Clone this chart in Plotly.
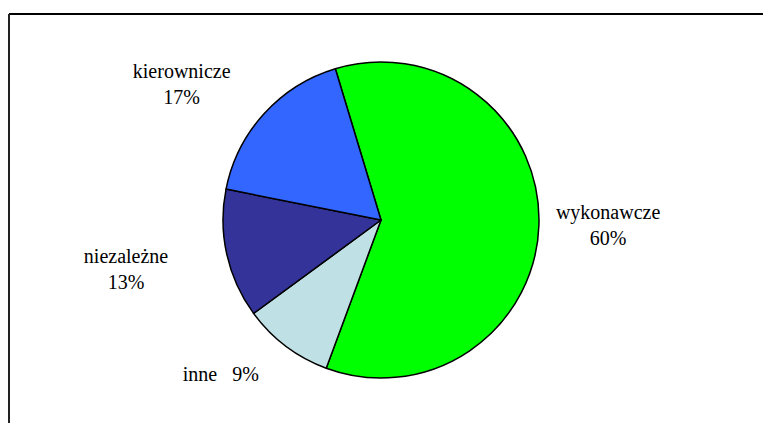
import plotly.graph_objects as go

categories = ["wykonawcze", "inne", "niezależne", "kierownicze"]
values = [60.3, 9.3, 13.2, 17.2]
colors = ["#00FF00", "#BFE0E4", "#333399", "#3366FF"]

W, H = 763, 423
cx, cy, r = 381, 220, 158
SERIF = "Liberation Serif, Times New Roman, DejaVu Serif, serif"
NB = "\u00a0"

templates = [
    NB + "%{label}<br>" + NB + "%{percent:.0%}",
    NB + "<br>%{label}" + NB * 3 + "%{percent:.0%}" + NB * 3,
    NB + "<br>%{label}" + NB * 8 + "<br>%{percent:.0%}" + NB * 8,
    "%{label}" + NB * 3 + "<br>%{percent:.0%}" + NB * 3 + "<br>" + NB,
]

fig = go.Figure(go.Pie(
    labels=categories,
    values=values,
    sort=False,
    direction="clockwise",
    rotation=-16.8,
    marker=dict(colors=colors, line=dict(color="black", width=1.5)),
    textposition="outside",
    texttemplate=templates,
    textfont=dict(family=SERIF, size=20, color="black"),
    outsidetextfont=dict(family=SERIF, size=20, color="black"),
    domain=dict(x=[(cx - r) / W, (cx + r) / W], y=[1 - (cy + r) / H, 1 - (cy - r) / H]),
    showlegend=False,
    hoverinfo="label+percent",
))

fig.update_layout(
    width=W, height=H,
    margin=dict(l=0, r=0, t=0, b=0),
    paper_bgcolor="white",
    plot_bgcolor="white",
    font=dict(family=SERIF, size=20, color="black"),
    shapes=[
        dict(type="line", xref="paper", yref="paper", x0=9 / W, x1=1, y0=1 - 14 / H, y1=1 - 14 / H,
             line=dict(color="black", width=2)),
        dict(type="line", xref="paper", yref="paper", x0=9 / W, x1=9 / W, y0=1 - 14 / H, y1=0,
             line=dict(color="#222", width=2)),
    ],
)

fig.write_html("out.html", config={"displayModeBar": False},
               post_script="document.body.style.margin='0';document.body.style.overflow='hidden';")
